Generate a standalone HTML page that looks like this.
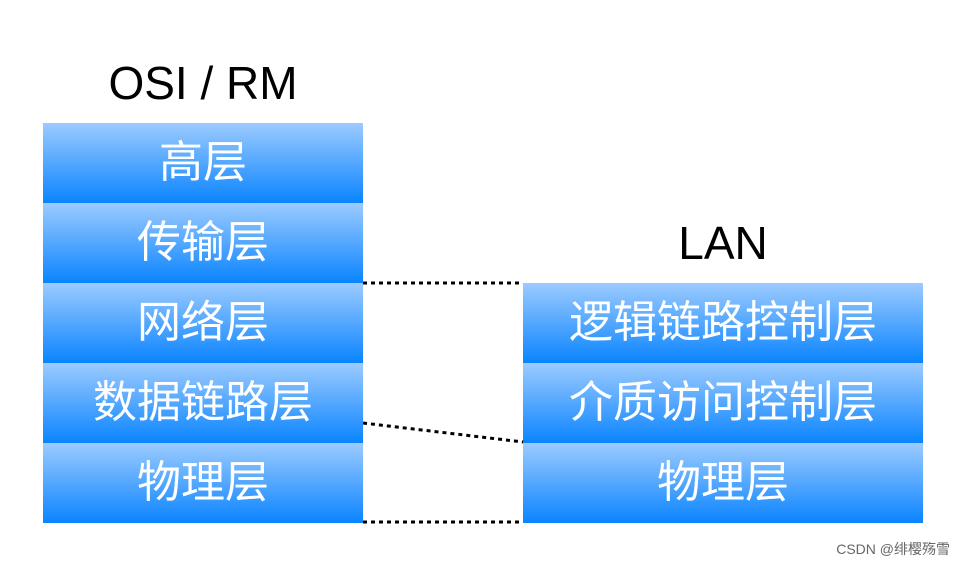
<!DOCTYPE html>
<html><head><meta charset="utf-8"><style>
body{margin:0;width:964px;height:566px;background:#fff;position:relative;overflow:hidden;font-family:"Liberation Sans","Noto Sans CJK SC",sans-serif}
.b{position:absolute;height:80px;background:linear-gradient(#9ccbff,#0a84ff);color:#fff;font-size:44px;text-align:center;line-height:80px;white-space:nowrap}
.l{left:43px;width:320px}.r{left:523px;width:400px}
.t{position:absolute;font-size:46px;color:#000;text-align:center}
</style></head><body>
<div class="t" style="left:43px;width:320px;top:56px">OSI / RM</div>
<div class="t" style="left:523px;width:400px;top:216px">LAN</div>
<div class="b l" style="top:123px">高层</div>
<div class="b l" style="top:203px">传输层</div>
<div class="b l" style="top:283px">网络层</div>
<div class="b l" style="top:363px">数据链路层</div>
<div class="b l" style="top:443px">物理层</div>
<div class="b r" style="top:283px">逻辑链路控制层</div>
<div class="b r" style="top:363px">介质访问控制层</div>
<div class="b r" style="top:443px">物理层</div>
<svg style="position:absolute;left:0;top:0" width="964" height="566">
<g stroke="#000" stroke-width="3" stroke-dasharray="4 4">
<line x1="363" y1="283" x2="521" y2="283"/>
<line x1="363" y1="423" x2="523" y2="442"/>
<line x1="363" y1="522" x2="521" y2="522"/>
</g></svg>
<div style="position:absolute;right:14px;top:539px;font-size:14px;color:#666">CSDN @绯樱殇雪</div>
</body></html>
